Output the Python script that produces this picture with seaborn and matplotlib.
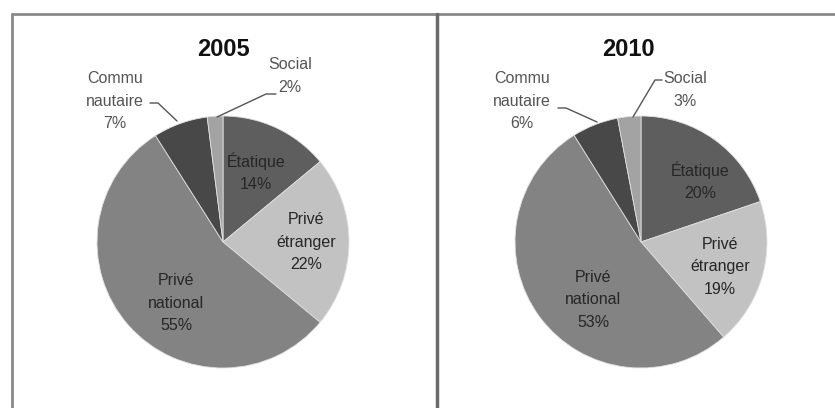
import matplotlib
matplotlib.use("Agg")
import matplotlib.pyplot as plt
import seaborn as sns
import numpy as np

sns.set_theme(style="white")
plt.rcParams['font.family'] = ['Liberation Sans', 'DejaVu Sans']

# ---- data ----
categories = ["Étatique", "Privé\nétranger", "Privé\nnational", "Commu\nnautaire", "Social"]
values_2005 = [14, 22, 55, 7, 2]
values_2010 = [20, 19, 53, 6, 3]
years = ["2005", "2010"]

colors = ["#5e5e5e", "#c2c2c2", "#838383", "#484848", "#a3a3a3"]

W, H = 835, 408
fig = plt.figure(figsize=(W / 100, H / 100), dpi=100)

R = 126  # pie radius in px

# layout (pixel positions), separate from data
layout = {
    "2005": dict(center=(223, 242), title=(223, 50),
                 inside=[(256, 172), (306, 242), (176, 303)],
                 social_txt=(290, 76), commu_txt=(115, 101),
                 social_line=[(276, 94), (266, 94), (217, 117)],
                 commu_line=[(150, 103), (158, 103), (177, 121)]),
    "2010": dict(center=(641, 242), title=(628, 50),
                 inside=[(700, 181), (720, 267), (593, 300)],
                 social_txt=(685, 90), commu_txt=(522, 101),
                 social_line=[(662, 80), (655, 80), (633, 117)],
                 commu_line=[(558, 108), (566, 108), (597, 122)]),
}


def to_data(p, c):
    return ((p[0] - c[0]) / R, (c[1] - p[1]) / R)


LS = 1.6
for year, vals in zip(years, [values_2005, values_2010]):
    L = layout[year]
    cx, cy = L["center"]
    pad = 1.45
    ax = fig.add_axes([(cx - R * pad) / W, (H - cy - R * pad) / H,
                       2 * R * pad / W, 2 * R * pad / H])
    ax.pie(vals, colors=colors, startangle=90, counterclock=False, radius=1,
           wedgeprops=dict(edgecolor="#e0e0e0", linewidth=0.6))
    ax.set_xlim(-pad, pad)
    ax.set_ylim(-pad, pad)
    ax.set_aspect("equal")
    ax.axis("off")

    # inside labels
    for i in range(3):
        x, y = to_data(L["inside"][i], L["center"])
        ax.text(x, y, f"{categories[i]}\n{vals[i]}%", ha="center", va="center",
                fontsize=11.5, color="#262626", linespacing=LS)
    # outside labels
    x, y = to_data(L["social_txt"], L["center"])
    ax.text(x, y, f"{categories[4]}\n{vals[4]}%", ha="center", va="center",
            fontsize=11.5, color="#555555", linespacing=LS)
    x, y = to_data(L["commu_txt"], L["center"])
    ax.text(x, y, f"{categories[3]}\n{vals[3]}%", ha="center", va="center",
            fontsize=11.5, color="#555555", linespacing=LS)
    for key in ["social_line", "commu_line"]:
        pts = np.array([to_data(p, L["center"]) for p in L[key]])
        ax.plot(pts[:, 0], pts[:, 1], color="#555555", lw=1.0)
    # title
    x, y = to_data(L["title"], L["center"])
    ax.text(x, y, year, ha="center", va="center", fontsize=17,
            fontweight="bold", color="#111111")

# panel borders
bl = fig.add_axes([0, 0, 1, 1], facecolor="none")
bl.set_xlim(0, W)
bl.set_ylim(H, 0)
bl.axis("off")
bl.plot([12, 12], [H, 14], color="#8a8a8a", lw=2)
bl.plot([12, W], [14, 14], color="#8a8a8a", lw=2)
bl.plot([437, 437], [14, H], color="#6a6a6a", lw=2.5)

fig.savefig("out.png", dpi=100, facecolor="white")
